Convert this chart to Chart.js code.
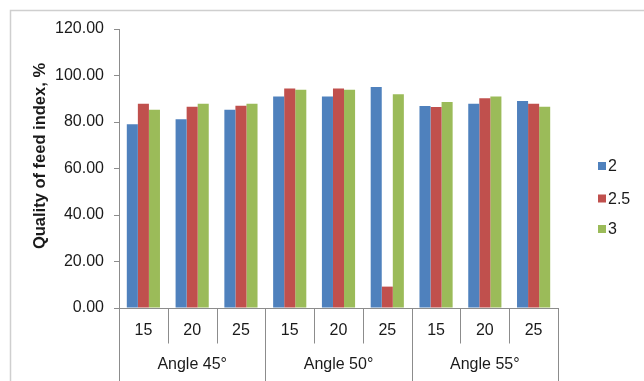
<!DOCTYPE html>
<html>
<head>
<meta charset="utf-8">
<script src="https://cdn.jsdelivr.net/npm/chart.js@4.4.1/dist/chart.umd.min.js"></script>
<style>
  html, body { margin: 0; padding: 0; background: #ffffff; }
  #wrap { width: 644px; height: 381px; position: relative; }
</style>
</head>
<body>
<div id="wrap"><canvas id="chart" width="644" height="381"></canvas></div>
<script>
// Outer category level (blade angle) and inner level (value per group)
const angleGroups = ['Angle 45°', 'Angle 50°', 'Angle 55°'];
const innerLabels = ['15', '20', '25'];

// Series names
const seriesNames = ['2', '2.5', '3'];

// Quality of feed index, % (one value per inner category, in group order)
const series2   = [79.0, 81.2, 85.3, 91.0, 91.0, 95.1, 86.9, 87.9, 89.0];
const series2_5 = [87.9, 86.6, 87.0, 94.4, 94.4,  9.2, 86.5, 90.2, 87.9];
const series3   = [85.3, 87.9, 87.9, 93.9, 93.9, 91.9, 88.6, 91.0, 86.6];

// Y axis ticks
const yTicks = [0, 20, 40, 60, 80, 100, 120];
const yTitle = 'Quality of feed index, %';

const seriesColors = ['#4F81BD', '#C0504D', '#9BBB59'];
const textColor = '#1a1a1a';
const axisColor = '#8c8c8c';
const fontFamily = '"Liberation Sans", Arial, sans-serif';

// Flat category list: one entry per (group, inner label)
const categories = [];
angleGroups.forEach(g => innerLabels.forEach(l => categories.push({ group: g, label: l })));

const seriesValues = [series2, series2_5, series3];

// Draws the frame, the axis title, the two-level category axis and the legend
const decorPlugin = {
  id: 'decor',
  beforeDraw(chart) {
    const ctx = chart.ctx;
    ctx.save();
    ctx.fillStyle = '#ffffff';
    ctx.fillRect(0, 0, chart.width, chart.height);
    ctx.strokeStyle = '#cfcfcf';
    ctx.lineWidth = 1.5;
    ctx.beginPath();
    ctx.moveTo(10.5, chart.height + 2);
    ctx.lineTo(10.5, 10.5);
    ctx.lineTo(chart.width + 2, 10.5);
    ctx.stroke();

    // y axis title, rotated
    ctx.translate(40, 156);
    ctx.rotate(-Math.PI / 2);
    ctx.fillStyle = textColor;
    ctx.font = 'bold 16.5px ' + fontFamily;
    ctx.textAlign = 'center';
    ctx.textBaseline = 'middle';
    ctx.fillText(yTitle, 0, 0);
    ctx.restore();
  },
  afterDraw(chart) {
    const ctx = chart.ctx;
    const x = chart.scales.x;
    const area = chart.chartArea;
    const n = categories.length;
    const step = (x.right - x.left) / n;
    const base = Math.round(area.bottom) + 0.5;

    ctx.save();
    ctx.strokeStyle = axisColor;
    ctx.lineWidth = 1;

    // separators between categories; group boundaries run to the bottom
    for (let i = 0; i <= n; i++) {
      const px = Math.round(x.getPixelForValue(i) - step / 2) + 0.5;
      const isGroupEdge = i % innerLabels.length === 0;
      ctx.beginPath();
      ctx.moveTo(px, base);
      ctx.lineTo(px, isGroupEdge ? chart.height : base + 35);
      ctx.stroke();
    }

    ctx.fillStyle = textColor;
    ctx.font = '16px ' + fontFamily;
    ctx.textAlign = 'center';
    ctx.textBaseline = 'middle';
    categories.forEach((c, i) => {
      ctx.fillText(c.label, x.getPixelForValue(i), base + 22);
    });
    angleGroups.forEach((g, gi) => {
      const first = gi * innerLabels.length;
      const last = first + innerLabels.length - 1;
      const cx = (x.getPixelForValue(first) + x.getPixelForValue(last)) / 2;
      ctx.fillText(g, cx, base + 56);
    });

    // legend
    const legendX = 598;
    const legendY = [166, 198.5, 229];
    chart.data.datasets.forEach((ds, i) => {
      ctx.fillStyle = ds.backgroundColor;
      ctx.fillRect(legendX, legendY[i] - 4, 8, 8);
      ctx.fillStyle = textColor;
      ctx.textAlign = 'left';
      ctx.fillText(ds.label, legendX + 10, legendY[i] + 1);
    });
    ctx.restore();
  }
};

new Chart(document.getElementById('chart'), {
  type: 'bar',
  data: {
    labels: categories.map(c => c.group + ' ' + c.label),
    datasets: seriesNames.map((name, i) => ({
      label: name,
      data: seriesValues[i],
      backgroundColor: seriesColors[i],
      borderWidth: 0,
      categoryPercentage: 0.68,
      barPercentage: 1.0
    }))
  },
  options: {
    responsive: false,
    animation: false,
    layout: { padding: { top: 29, right: 86, bottom: 0, left: 0 } },
    plugins: {
      legend: { display: false },
      tooltip: { enabled: false }
    },
    scales: {
      x: {
        grid: { display: false },
        border: { display: true, color: axisColor, width: 1 },
        ticks: { display: false },
        afterFit(scale) { scale.height = 73; }
      },
      y: {
        min: 0,
        max: 120,
        afterBuildTicks(scale) { scale.ticks = yTicks.map(v => ({ value: v })); },
        grid: { drawOnChartArea: false, tickLength: 5, color: axisColor },
        border: { display: true, color: axisColor, width: 1 },
        ticks: {
          padding: 10,
          color: textColor,
          font: { family: fontFamily, size: 16 },
          callback: v => Number(v).toFixed(2)
        },
        afterFit(scale) { scale.width = 119; }
      }
    }
  },
  plugins: [decorPlugin]
});
</script>
</body>
</html>
